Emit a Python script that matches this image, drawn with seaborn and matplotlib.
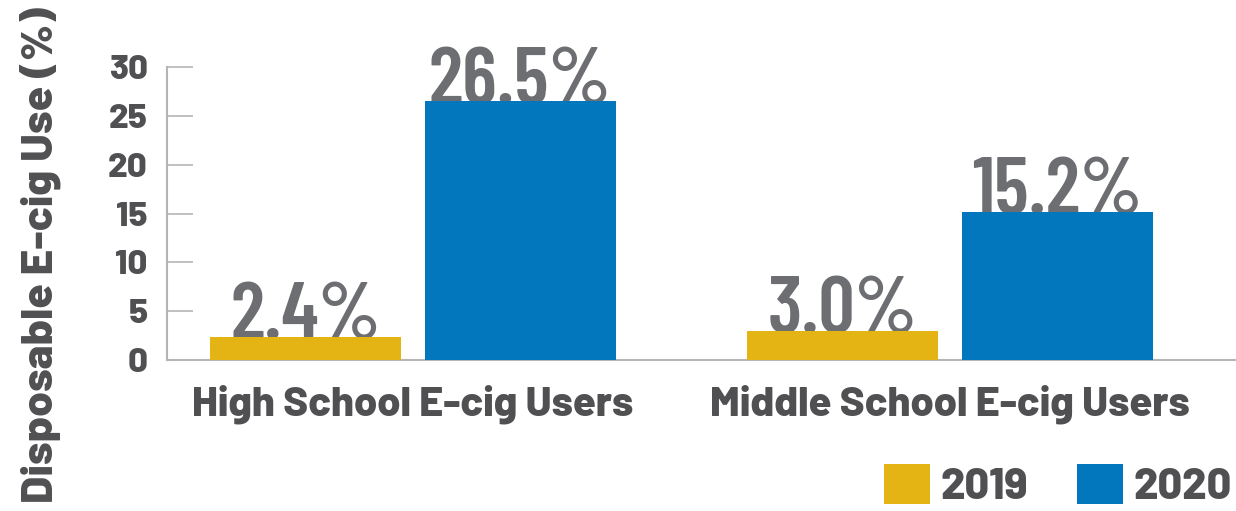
import matplotlib
matplotlib.use("Agg")
import matplotlib.pyplot as plt
import seaborn as sns
import pandas as pd

# Data
groups = ["High School E-cig Users", "Middle School E-cig Users"]
years = ["2019", "2020"]
use_2019 = [2.4, 3.0]
use_2020 = [26.5, 15.2]
yticks = [0, 5, 10, 15, 20, 25, 30]

YELLOW = "#E4B414"
BLUE = "#0277BD"
DARK = "#505053"
LABEL_GRAY = "#6D6E71"
BOLD_FONT = ["Barlow", "DejaVu Sans"]
COND_FONT = ["Barlow Condensed", "DejaVu Sans"]

df = pd.DataFrame({
    "group": groups * 2,
    "year": [years[0]] * 2 + [years[1]] * 2,
    "value": use_2019 + use_2020,
})

sns.set_theme(style="white")
plt.rcParams["font.family"] = BOLD_FONT

fig = plt.figure(figsize=(12.36, 5.11), dpi=100)
ax = fig.add_axes([167 / 1236, 1 - 360 / 511, 1 - 167 / 1236, (360 - 67) / 511])

sns.barplot(data=df, x="group", y="value", hue="year", order=groups,
            hue_order=years, palette=[YELLOW, BLUE], width=0.8, gap=0.11,
            saturation=1, linewidth=0, ax=ax, legend=True, zorder=3)

# value labels (sit behind bar tops)
for cont in ax.containers:
    for bar in cont:
        h = bar.get_height()
        ax.text(bar.get_x() + bar.get_width() / 2, h - 0.3, f"{h:.1f}%",
                ha="center", va="baseline", fontsize=58, family=COND_FONT,
                fontweight=600, color=LABEL_GRAY, zorder=2, clip_on=False)

ax.set_ylim(0, 30)
ax.set_xlim(-0.458, 1.533)
ax.set_yticks(yticks)
ax.set_yticklabels([str(t) for t in yticks])
ax.tick_params(axis="y", direction="in", length=19, width=1.2, color="#B5B5B5",
               pad=14, labelsize=25, labelcolor=DARK, left=True)
for lab in ax.get_yticklabels():
    lab.set_fontweight(800)
ax.tick_params(axis="x", length=0, pad=18, labelsize=30, labelcolor=DARK)
for lab in ax.get_xticklabels():
    lab.set_fontweight(800)

for s in ["top", "right"]:
    ax.spines[s].set_visible(False)
ax.spines["left"].set_color("#B5B5B5")
ax.spines["left"].set_linewidth(1.5)
ax.spines["bottom"].set_color("#B5B5B5")
ax.spines["bottom"].set_linewidth(1.5)

ax.set_xlabel("")
ax.set_ylabel("")
fig.text(40 / 1236, 0.5, "Disposable E-cig Use (%)", rotation=90, ha="center",
         va="center", fontsize=32, fontweight=800, color=DARK)

handles, labels = ax.get_legend_handles_labels()
ax.get_legend().remove()
leg = fig.legend(handles, labels, loc="lower right", bbox_to_anchor=(1.0, 0.0),
                 ncol=2, frameon=False, fontsize=31, handlelength=1.05,
                 handleheight=1.05, handletextpad=0.25, columnspacing=1.15,
                 borderpad=0.0, borderaxespad=0.1)
for t in leg.get_texts():
    t.set_fontweight(800)
    t.set_color(DARK)

fig.savefig("out.png", dpi=100)
